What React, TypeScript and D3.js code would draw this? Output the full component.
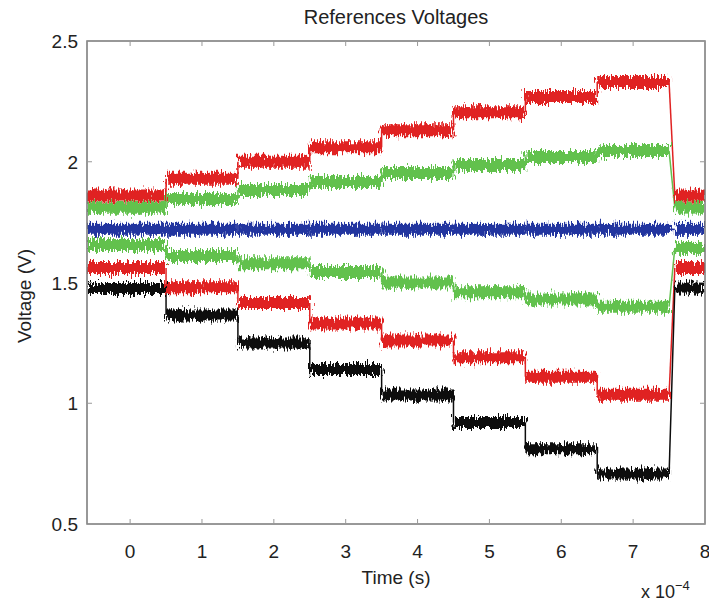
import React from "react";
import * as d3 from "d3";

// time in units of 1e-4 s
const segStarts = [-0.6, 0.5, 1.5, 2.5, 3.5, 4.5, 5.5, 6.5, 7.58];
const segEnds = [0.5, 1.5, 2.5, 3.5, 4.5, 5.5, 6.5, 7.5, 8.0];

const redUpper = [1.86, 1.93, 2.0, 2.06, 2.13, 2.205, 2.268, 2.33, 1.86];
const greenUpper = [1.81, 1.846, 1.883, 1.916, 1.953, 1.987, 2.02, 2.045, 1.81];
const blueMid = [1.72, 1.72, 1.72, 1.72, 1.72, 1.72, 1.72, 1.72, 1.72];
const greenLower = [1.655, 1.61, 1.58, 1.543, 1.5, 1.46, 1.43, 1.4, 1.643];
const redLower = [1.56, 1.48, 1.415, 1.33, 1.26, 1.19, 1.11, 1.035, 1.56];
const blackLow = [1.475, 1.365, 1.25, 1.14, 1.034, 0.92, 0.812, 0.707, 1.477];

const xTicks = [0, 1, 2, 3, 4, 5, 6, 7, 8];
const yTicks = [0.5, 1, 1.5, 2, 2.5];

const series = [
  { name: "greenUpper", values: greenUpper, color: "#62c14e", w: 12 },
  { name: "redUpper", values: redUpper, color: "#e02222", w: 12 },
  { name: "greenLower", values: greenLower, color: "#62c14e", w: 12 },
  { name: "blueMid", values: blueMid, color: "#24359f", w: 11 },
  { name: "redLower", values: redLower, color: "#e02222", w: 12 },
  { name: "blackLow", values: blackLow, color: "#0d0d0d", w: 11 },
];

const W = 709;
const H = 604;
const L = 87, R = 705, T = 41, B = 524;

export default function App() {
  const x = d3.scaleLinear().domain([-0.6, 8]).range([L, R]);
  const y = d3.scaleLinear().domain([0.5, 2.5]).range([B, T]);
  const font = "'Liberation Sans', Arial, Helvetica, sans-serif";
  const line = d3.line<[number, number]>().x((d) => x(d[0])).y((d) => y(d[1]));

  return (
    <svg width={W} height={H} style={{ position: "absolute", left: 0, top: 0, background: "#fff" }} fontFamily={font}>
      <defs>
        <filter id="noise" filterUnits="userSpaceOnUse" x={0} y={0} width={W} height={H}>
          <feTurbulence type="fractalNoise" baseFrequency="0.7 0.12" numOctaves={2} seed={3} result="t" />
          <feDisplacementMap in="SourceGraphic" in2="t" scale={14} xChannelSelector="B" yChannelSelector="R" />
        </filter>
        <clipPath id="plotclip">
          <rect x={L} y={T} width={R - L} height={B - T} />
        </clipPath>
      </defs>

      <text x={(L + R) / 2} y={24} textAnchor="middle" fontSize={20} fill="#222">References Voltages</text>

      <g clipPath="url(#plotclip)">
        {series.map((s) =>
          s.values.slice(0, -1).map((v, i) => (
            <path
              key={s.name + "c" + i}
              d={line([[segEnds[i], v], [segStarts[i + 1], s.values[i + 1]]]) || ""}
              stroke={s.color}
              strokeWidth={1.5}
              fill="none"
            />
          ))
        )}
        <g filter="url(#noise)">
          {series.map((s) =>
            s.values.map((v, i) => (
              <path
                key={s.name + i}
                d={line([[segStarts[i], v], [segEnds[i], v]]) || ""}
                stroke={s.color}
                strokeWidth={s.w}
                fill="none"
              />
            ))
          )}
        </g>
      </g>

      <rect x={L} y={T} width={R - L} height={B - T} fill="none" stroke="#777" strokeWidth={1.5} />
      {xTicks.map((t) => (
        <g key={"xt" + t}>
          <line x1={x(t)} x2={x(t)} y1={B} y2={B - 5} stroke="#999" />
          <line x1={x(t)} x2={x(t)} y1={T} y2={T + 5} stroke="#999" />
          <text x={x(t)} y={558} textAnchor="middle" fontSize={19} fill="#222">{t}</text>
        </g>
      ))}
      {yTicks.map((t) => (
        <g key={"yt" + t}>
          <line x1={L} x2={L + 5} y1={y(t)} y2={y(t)} stroke="#999" />
          <line x1={R} x2={R - 5} y1={y(t)} y2={y(t)} stroke="#999" />
          <text x={78} y={y(t) + 7} textAnchor="end" fontSize={19} fill="#222">{t}</text>
        </g>
      ))}

      <text x={(L + R) / 2} y={584} textAnchor="middle" fontSize={19} fill="#222">Time (s)</text>
      <text x={641} y={598} fontSize={18} fill="#222">
        x 10<tspan dy={-8} fontSize={13}>−4</tspan>
      </text>
      <text transform={`translate(31, 296) rotate(-90)`} textAnchor="middle" fontSize={19} fill="#222">Voltage (V)</text>
    </svg>
  );
}
